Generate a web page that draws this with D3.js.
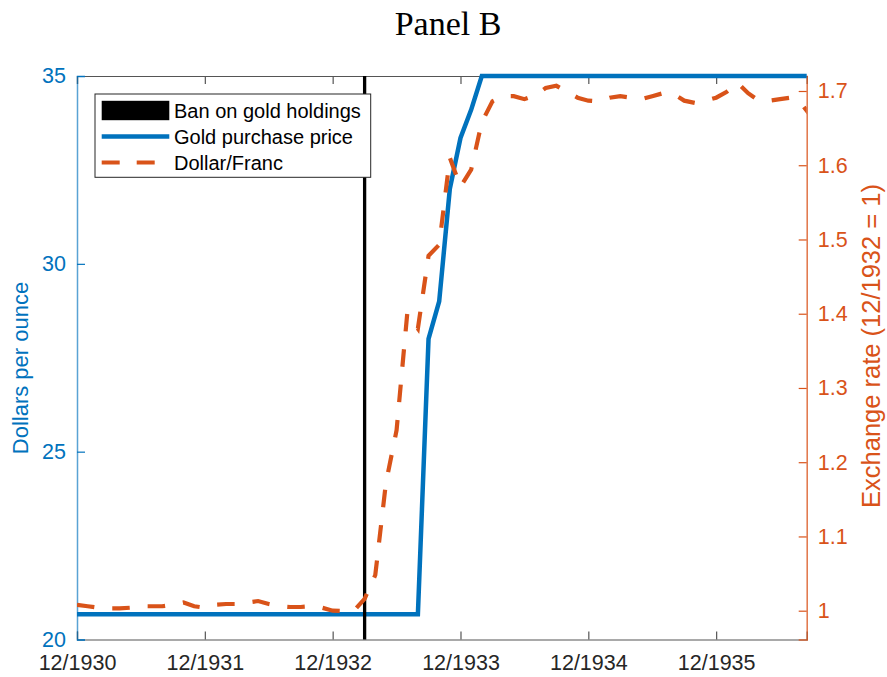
<!DOCTYPE html>
<html>
<head>
<meta charset="utf-8">
<script src="https://cdn.jsdelivr.net/npm/d3@7"></script>
<style>
  body { margin: 0; background: #fff; }
  text { font-family: "Liberation Sans", Arial, sans-serif; }
</style>
</head>
<body>
<div id="chart"></div>
<script>
// months counted from 12/1930 (0) ; one value per month
const months = d3.range(0, 70);

// gold purchase price, dollars per ounce
const goldPrice = [
  20.67, 20.67, 20.67, 20.67, 20.67, 20.67, 20.67, 20.67, 20.67, 20.67,
  20.67, 20.67, 20.67, 20.67, 20.67, 20.67, 20.67, 20.67, 20.67, 20.67,
  20.67, 20.67, 20.67, 20.67, 20.67, 20.67, 20.67, 20.67, 20.67, 20.67,
  20.67, 20.67, 20.67, 28.0, 29.0, 32.0, 33.35, 34.1, 35, 35,
  35, 35, 35, 35, 35, 35, 35, 35, 35, 35,
  35, 35, 35, 35, 35, 35, 35, 35, 35, 35,
  35, 35, 35, 35, 35, 35, 35, 35, 35, 35
];

// dollar/franc exchange rate, 12/1932 = 1
const dollarFranc = [
  1.008, 1.006, 1.004, 1.003, 1.003, 1.004, 1.006, 1.006, 1.006, 1.008,
  1.011, 1.006, 1.004, 1.008, 1.009, 1.009, 1.011, 1.013, 1.009, 1.006,
  1.005, 1.005, 1.006, 1.004, 1.000, 0.9995, 1.000, 1.016, 1.048, 1.172,
  1.243, 1.400, 1.380, 1.478, 1.493, 1.610, 1.571, 1.594, 1.658, 1.686,
  1.693, 1.693, 1.689, 1.694, 1.704, 1.707, 1.699, 1.691, 1.687, 1.686,
  1.691, 1.693, 1.691, 1.689, 1.693, 1.697, 1.696, 1.687, 1.684, 1.687,
  1.691, 1.699, 1.711, 1.697, 1.687, 1.687, 1.689, 1.691, 1.683, 1.664
];

const banMonth = 27; // 3/1933

const xTicks = [0, 12, 24, 36, 48, 60];
const xTickLabels = ["12/1930", "12/1931", "12/1932", "12/1933", "12/1934", "12/1935"];
const leftTicks = [20, 25, 30, 35];
const rightTicks = [1, 1.1, 1.2, 1.3, 1.4, 1.5, 1.6, 1.7];
const legendLabels = ["Ban on gold holdings", "Gold purchase price", "Dollar/Franc"];

const width = 887, height = 677,
  margin = {top: 76, right: 80.3, bottom: 37.5, left: 77};

const blue = "#0072BD", orange = "#D95319", axisGray = "#262626";

const svg = d3.select("#chart")
  .append("svg")
  .attr("width", width)
  .attr("height", height);

const x = d3.scaleLinear([0, 68.5], [margin.left, width - margin.right]);
const yL = d3.scaleLinear([20, 35], [height - margin.bottom, margin.top]);
const yR = d3.scaleLinear([0.9612, 1.7202], [height - margin.bottom, margin.top]);

svg.append("defs").append("clipPath")
  .attr("id", "plot-clip")
  .append("rect")
  .attr("x", margin.left)
  .attr("y", margin.top - 4)
  .attr("width", width - margin.left - margin.right)
  .attr("height", height - margin.top - margin.bottom + 8);

// bottom axis
const xAxis = svg.append("g")
  .attr("transform", `translate(0,${height - margin.bottom})`)
  .call(d3.axisBottom(x).tickValues(xTicks).tickFormat((d, i) => xTickLabels[i])
    .tickSize(-8).tickPadding(15));
xAxis.selectAll("text").style("font-size", "21.5px").attr("fill", axisGray);

// top border with ticks
const topAxis = svg.append("g")
  .attr("transform", `translate(0,${margin.top})`)
  .call(d3.axisTop(x).tickValues(xTicks).tickFormat("").tickSize(-8));

[xAxis, topAxis].forEach(g => {
  g.select(".domain").attr("stroke", "#555").attr("stroke-width", 1.2);
  g.selectAll(".tick line").attr("stroke", "#555").attr("stroke-width", 1.2);
});

// left axis
const yAxisL = svg.append("g")
  .attr("transform", `translate(${margin.left},0)`)
  .call(d3.axisLeft(yL).tickValues(leftTicks).tickSize(-8).tickPadding(11));
yAxisL.select(".domain").attr("stroke", blue).attr("stroke-opacity", 0.65).attr("stroke-width", 1.5);
yAxisL.selectAll(".tick line").attr("stroke", blue).attr("stroke-width", 1.2);
yAxisL.selectAll("text").style("font-size", "21.5px").attr("fill", blue);

// right axis
const yAxisR = svg.append("g")
  .attr("transform", `translate(${width - margin.right},0)`)
  .call(d3.axisRight(yR).tickValues(rightTicks).tickFormat(d3.format("~g")).tickSize(-8).tickPadding(11));
yAxisR.select(".domain").attr("stroke", orange).attr("stroke-opacity", 0.8).attr("stroke-width", 1.5);
yAxisR.selectAll(".tick line").attr("stroke", orange).attr("stroke-width", 1.2);
yAxisR.selectAll("text").style("font-size", "21.5px").attr("fill", orange);

// axis labels
svg.append("text")
  .attr("transform", "translate(22,368) rotate(-90)")
  .attr("text-anchor", "middle")
  .attr("dominant-baseline", "middle")
  .attr("fill", blue)
  .style("font-size", "22px")
  .text("Dollars per ounce");

svg.append("text")
  .attr("transform", "translate(873,346) rotate(-90)")
  .attr("text-anchor", "middle")
  .attr("dominant-baseline", "middle")
  .attr("fill", orange)
  .style("font-size", "25.5px")
  .text("Exchange rate (12/1932 = 1)");

// title
svg.append("text")
  .attr("x", 448)
  .attr("y", 35)
  .attr("text-anchor", "middle")
  .style("font-family", "'Liberation Serif', 'Times New Roman', serif")
  .style("font-size", "34px")
  .attr("fill", "#000")
  .text("Panel B");

const plot = svg.append("g").attr("clip-path", "url(#plot-clip)");

// gold purchase price
plot.append("path")
  .datum(months)
  .attr("fill", "none")
  .attr("stroke", blue)
  .attr("stroke-width", 4.5)
  .attr("d", d3.line().x(d => x(d)).y((d, i) => yL(goldPrice[i])));

// ban on gold holdings
plot.append("line")
  .attr("x1", x(banMonth)).attr("x2", x(banMonth))
  .attr("y1", yL(20)).attr("y2", yL(35))
  .attr("stroke", "#000")
  .attr("stroke-width", 3.3);

// dollar/franc
plot.append("path")
  .datum(months)
  .attr("fill", "none")
  .attr("stroke", orange)
  .attr("stroke-width", 4.2)
  .attr("stroke-dasharray", "17.5,18")
  .attr("d", d3.line().x(d => x(d)).y((d, i) => yR(dollarFranc[i])));

// legend
const legend = svg.append("g");
legend.append("rect")
  .attr("x", 95).attr("y", 94)
  .attr("width", 275.7).attr("height", 83.3)
  .attr("fill", "#fff")
  .attr("stroke", axisGray)
  .attr("stroke-width", 1);

const rowY = d3.scalePoint(legendLabels, [110.5, 162.5]);

legend.append("rect")
  .attr("x", 101.7).attr("y", rowY(legendLabels[0]) - 9.7)
  .attr("width", 67.6).attr("height", 19.4)
  .attr("fill", "#000");

legend.append("line")
  .attr("x1", 101.7).attr("x2", 169.3)
  .attr("y1", rowY(legendLabels[1])).attr("y2", rowY(legendLabels[1]))
  .attr("stroke", blue).attr("stroke-width", 4.5);

legend.append("line")
  .attr("x1", 101.7).attr("x2", 169.3)
  .attr("y1", rowY(legendLabels[2])).attr("y2", rowY(legendLabels[2]))
  .attr("stroke", orange).attr("stroke-width", 4.2)
  .attr("stroke-dasharray", "18,17");

legend.selectAll(".legend-text")
  .data(legendLabels)
  .join("text")
  .attr("class", "legend-text")
  .attr("x", 174)
  .attr("y", d => rowY(d))
  .attr("dominant-baseline", "central")
  .style("font-size", "20px")
  .attr("fill", "#000")
  .text(d => d);
</script>
</body>
</html>
